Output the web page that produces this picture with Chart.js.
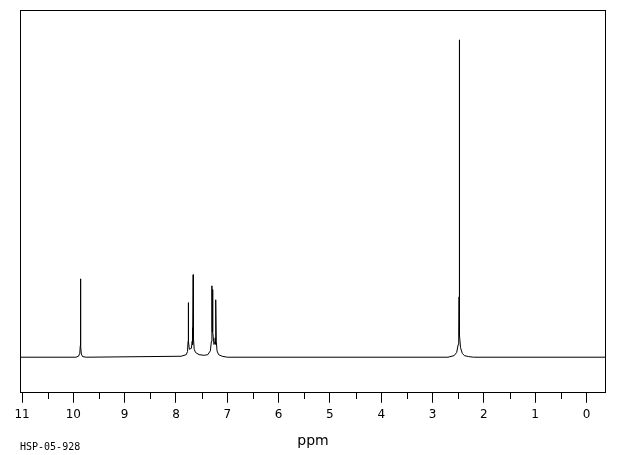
<!DOCTYPE html>
<html>
<head>
<meta charset="utf-8">
<script src="https://cdn.jsdelivr.net/npm/chart.js@4/dist/chart.umd.min.js"></script>
<style>
  html, body { margin: 0; padding: 0; background: #fff; }
  #wrap { width: 620px; height: 455px; position: relative; }
</style>
</head>
<body>
<div id="wrap"><canvas id="myChart"></canvas></div>
<script>
// spectrum trace (ppm, relative intensity)
const shift_ppm = [
  11.04, 9.95, 9.9, 9.875, 9.865, 9.862, 9.858, 9.855, 9.845, 9.82, 9.75,
  7.9, 7.8, 7.775, 7.765, 7.76, 7.755, 7.74, 7.7, 7.685, 7.68, 7.672, 7.665, 7.66, 7.645, 7.62, 7.55,
  7.45, 7.38, 7.33, 7.31, 7.3, 7.295, 7.288, 7.285, 7.28, 7.26, 7.24, 7.235, 7.23, 7.222, 7.215, 7.2, 7.17, 7.1, 7.0,
  2.7, 2.58, 2.53, 2.5, 2.49, 2.483, 2.48, 2.477, 2.47, 2.455, 2.42, 2.38, 2.3, 2.2, -0.38
];
const intensity = [
  0, 0, 0.3, 1.2, 3.6, 24.7, 13.4, 3.5, 1.0, 0.2, 0,
  0.3, 0.8, 1.8, 5, 17.2, 5, 2.5, 2.8, 5, 9.3, 4, 26, 6, 2.5, 1.5, 0.8,
  0.6, 0.8, 2, 5, 22.5, 8, 12, 21.3, 8, 4, 5, 6.1, 4, 18.1, 5, 2, 0.8, 0.3, 0,
  0, 0.5, 1.5, 4, 8, 19, 100, 19, 7, 3, 1.2, 0.5, 0.2, 0, 0
];
const major_ticks = [11, 10, 9, 8, 7, 6, 5, 4, 3, 2, 1, 0];
const minor_ticks = [10.5, 9.5, 8.5, 7.5, 6.5, 5.5, 4.5, 3.5, 2.5, 1.5, 0.5];
const x_title = "ppm";
const sample_code = "HSP-05-928";

const points = shift_ppm.map((x, i) => ({ x: x, y: intensity[i] }));

// box around plot, minor ticks and sample code
const frame = {
  id: "frame",
  afterDraw(chart) {
    const { ctx, chartArea: a, scales } = chart;
    ctx.save();
    ctx.strokeStyle = "#000";
    ctx.lineWidth = 1;
    ctx.strokeRect(Math.round(a.left) + 0.5, Math.round(a.top) + 0.5,
      Math.round(a.right - a.left) - 1, Math.round(a.bottom - a.top));
    ctx.beginPath();
    minor_ticks.forEach(v => {
      const px = Math.round(scales.x.getPixelForValue(v)) + 0.5;
      ctx.moveTo(px, Math.round(a.bottom));
      ctx.lineTo(px, Math.round(a.bottom) + 7);
    });
    ctx.stroke();
    ctx.fillStyle = "#000";
    ctx.font = "10px 'DejaVu Sans Mono'";
    ctx.textBaseline = "middle";
    ctx.fillText(sample_code, 20, 447);
    ctx.restore();
  }
};

const config = {
  type: "line",
  data: {
    datasets: [{
      data: points,
      borderColor: "#000",
      borderWidth: 1,
      pointRadius: 0,
      tension: 0,
      fill: false,
    }],
  },
  options: {
    responsive: true,
    maintainAspectRatio: false,
    animation: false,
    events: [],
    layout: { padding: { left: 20, right: 14, top: 10, bottom: 0 } },
    plugins: { legend: { display: false }, tooltip: { enabled: false } },
    scales: {
      x: {
        type: "linear",
        reverse: true,
        min: -0.38,
        max: 11.04,
        afterBuildTicks: axis => { axis.ticks = major_ticks.map(v => ({ value: v })); },
        grid: { display: true, drawOnChartArea: false, drawTicks: true, tickLength: 11, color: "#000", lineWidth: 1 },
        border: { display: false },
        ticks: { color: "#000", padding: 5, maxRotation: 0, autoSkip: false, font: { family: "DejaVu Sans", size: 12 } },
        title: { display: true, text: x_title, color: "#000", font: { family: "DejaVu Sans", size: 14 }, padding: { top: 6, bottom: 5 } },
      },
      y: {
        display: false,
        min: -10.9,
        max: 109.4,
      },
    },
  },
  plugins: [frame],
};

const myChart = new Chart(document.getElementById("myChart"), config);
</script>
</body>
</html>
